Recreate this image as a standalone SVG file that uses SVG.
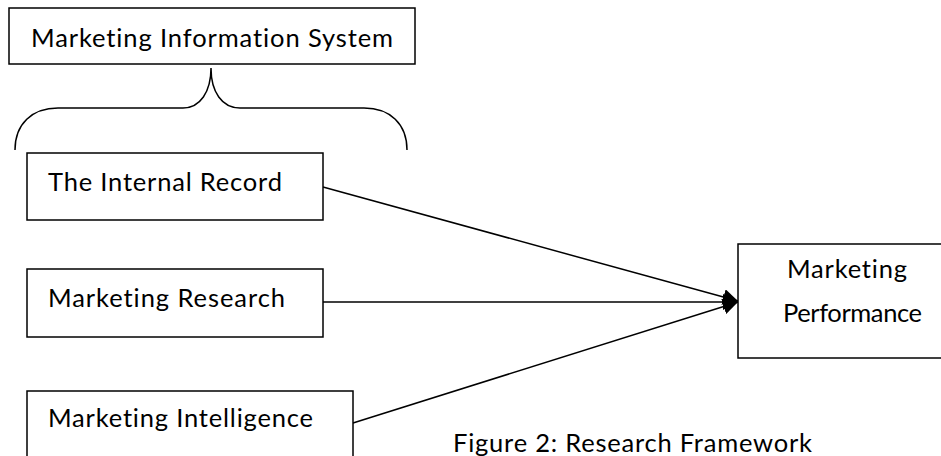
<svg xmlns="http://www.w3.org/2000/svg" width="941" height="456" viewBox="0 0 941 456">
<style>
.box{fill:#fff;stroke:#000;stroke-width:1.5}
.t{font-family:Lato,"Liberation Sans",Arial,sans-serif;font-size:25.5px;fill:#000;font-variant-ligatures:none}
.c{stroke:#000;stroke-width:1.5;fill:none}
</style>
<defs>
<marker id="ah" markerUnits="userSpaceOnUse" markerWidth="16" markerHeight="16" refX="15" refY="8" orient="auto" viewBox="0 0 16 16">
<path d="M0,0 L15,8 L0,16 z" fill="#000"/>
</marker>
</defs>
<rect width="941" height="456" fill="#fff"/>
<g id="mis">
<rect class="box" x="9" y="8" width="406" height="56"/>
<text class="t" x="31" y="47" textLength="362" lengthAdjust="spacing">Marketing Information System</text>
</g>
<g id="brace">
<path class="c" d="M15,150 C15,124 32,108 58,108 L183,108 C200,108 211,92 211,68 C211,92 222,108 240,108 L364,108 C390,108 407,124 407,150"/>
</g>
<g id="connectors">
<line class="c" x1="323" y1="187" x2="738" y2="301" marker-end="url(#ah)"/>
<line class="c" x1="323" y1="302" x2="738" y2="302" marker-end="url(#ah)"/>
<line class="c" x1="353" y1="423" x2="738" y2="302" marker-end="url(#ah)"/>
</g>
<g id="internal">
<rect class="box" x="27" y="153" width="296" height="67"/>
<text class="t" x="48" y="191" textLength="234" lengthAdjust="spacing">The Internal Record</text>
</g>
<g id="research">
<rect class="box" x="27" y="269" width="296" height="68"/>
<text class="t" x="48" y="307" textLength="237" lengthAdjust="spacing">Marketing Research</text>
</g>
<g id="intelligence">
<rect class="box" x="27" y="391" width="326" height="80"/>
<text class="t" x="48" y="427" textLength="265" lengthAdjust="spacing">Marketing Intelligence</text>
</g>
<g id="performance">
<rect class="box" x="738" y="244" width="210" height="114"/>
<text class="t" x="787" y="278" textLength="120" lengthAdjust="spacing">Marketing</text>
<text class="t" x="783" y="322" textLength="139" lengthAdjust="spacing">Performance</text>
</g>
<g id="caption">
<text class="t" x="453" y="452" textLength="359" lengthAdjust="spacing">Figure 2: Research Framework</text>
</g>
</svg>
